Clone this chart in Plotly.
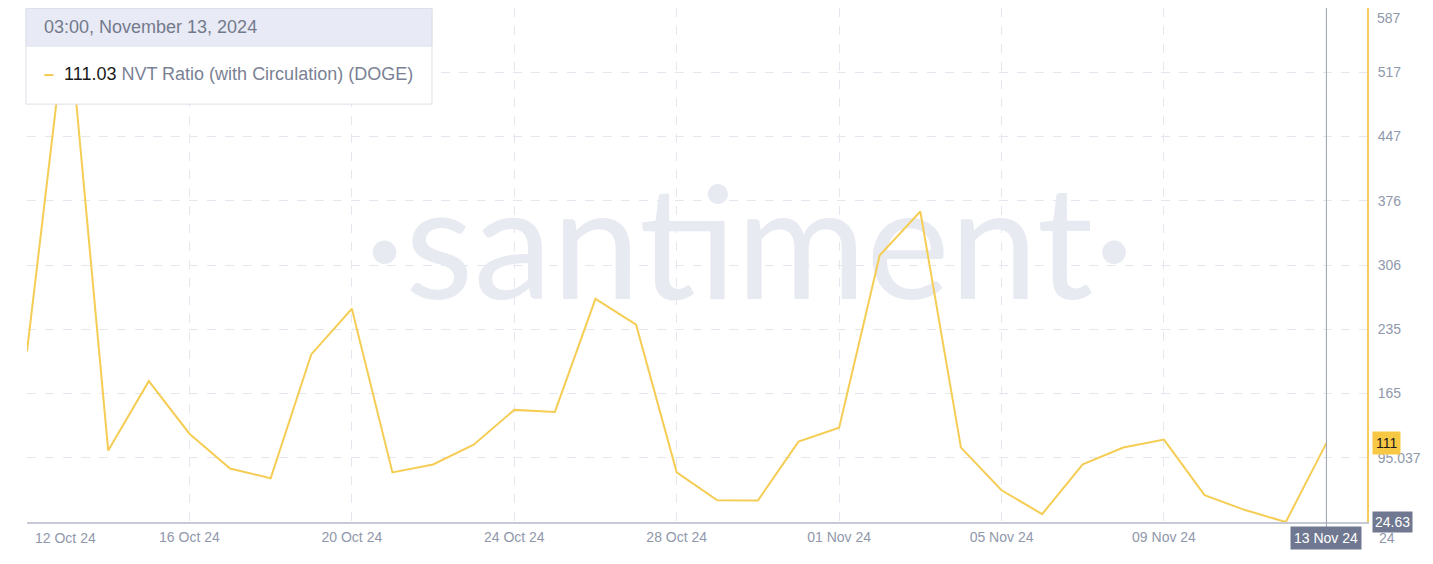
import pandas as pd
import plotly.graph_objects as go

# data (daily NVT ratio, DOGE)
dates = [
    "2024-10-12", "2024-10-13", "2024-10-14", "2024-10-15", "2024-10-16", "2024-10-17",
    "2024-10-18", "2024-10-19", "2024-10-20", "2024-10-21", "2024-10-22", "2024-10-23",
    "2024-10-24", "2024-10-25", "2024-10-26", "2024-10-27", "2024-10-28", "2024-10-29",
    "2024-10-30", "2024-10-31", "2024-11-01", "2024-11-02", "2024-11-03", "2024-11-04",
    "2024-11-05", "2024-11-06", "2024-11-07", "2024-11-08", "2024-11-09", "2024-11-10",
    "2024-11-11", "2024-11-12", "2024-11-13",
]
nvt = [
    211.6, 587.8, 102.9, 179.0, 121.4, 83.3,
    72.5, 208.3, 258.3, 79.0, 87.7, 109.4,
    147.5, 145.3, 269.2, 240.9, 79.0, 48.5,
    48.2, 112.7, 127.9, 317.0, 364.9, 106.2,
    59.4, 33.3, 87.7, 106.2, 114.9, 54.0,
    37.7, 24.63, 111.03,
]

x_ticks = ["2024-10-16", "2024-10-20", "2024-10-24", "2024-10-28",
           "2024-11-01", "2024-11-05", "2024-11-09", "2024-11-13"]
x_tick_text = ["16 Oct 24", "20 Oct 24", "24 Oct 24", "28 Oct 24",
               "01 Nov 24", "05 Nov 24", "09 Nov 24", "13 Nov 24"]
y_ticks = [24.63, 95.037, 165.44, 235.85, 306.25, 376.66, 447.06, 517.47, 587.87]
y_tick_text = ["", "95.037", "165", "235", "306", "376", "447", "517", ""]

x_start, x_end = pd.Timestamp("2024-10-12"), pd.Timestamp("2024-11-14")
y_min, y_max = 24.63, 587.9

LINE = "#f5cd55"
GRID = "#e4e7ee"
TICK = "#9098ab"
SLATE = "#6f7890"

fig = go.Figure()

# watermark behind the line
fig.add_trace(go.Scatter(
    x=[x_start + (x_end - x_start) * 0.539], y=[y_min + (y_max - y_min) * 0.51],
    mode="text", text=["·santiment·"],
    textfont=dict(family="Lato, sans-serif", size=158, color="#e8eaf2"),
    hoverinfo="skip", showlegend=False, cliponaxis=False,
))

fig.add_trace(go.Scatter(
    x=dates, y=nvt, mode="lines",
    line=dict(color=LINE, width=2),
    name="NVT Ratio (with Circulation) (DOGE)", showlegend=False,
))

fig.update_layout(
    width=1425, height=556,
    margin=dict(l=19, r=66, t=0, b=42),
    plot_bgcolor="white", paper_bgcolor="white",
    font=dict(family="Liberation Sans, Arial, sans-serif", size=14, color=TICK),
    xaxis=dict(
        range=[x_start, x_end], tickvals=x_ticks, ticktext=x_tick_text,
        showgrid=True, gridcolor=GRID, griddash="dash", gridwidth=1,
        showline=True, linecolor="#c6cad4", linewidth=2,
        ticks="", ticklabelstandoff=1, zeroline=False,
    ),
    yaxis=dict(
        range=[y_min, y_max], tickvals=y_ticks, ticktext=y_tick_text, side="right",
        showgrid=True, gridcolor=GRID, griddash="dash", gridwidth=1,
        showline=True, linecolor=LINE, linewidth=2,
        ticks="", ticklabelstandoff=6, zeroline=False,
    ),
)

# crosshair
fig.add_shape(type="line", xref="x", yref="paper", x0=dates[-1], x1=dates[-1],
              y0=-0.012, y1=1, line=dict(color="#9aa0ae", width=1))

# tooltip box
fig.add_shape(type="rect", xref="paper", yref="paper", x0=-0.0007, x1=0.3022,
              y0=0.813, y1=0.999, fillcolor="white", line=dict(color="#dde0e8", width=1))
fig.add_shape(type="rect", xref="paper", yref="paper", x0=-0.0007, x1=0.3022,
              y0=0.926, y1=0.999, fillcolor="#e8eaf5", line=dict(color="#dde0e8", width=1))
fig.add_annotation(xref="paper", yref="paper", x=0.0112, y=0.964, xanchor="left",
                   yanchor="middle", showarrow=False,
                   text="03:00, November 13, 2024",
                   font=dict(size=18, color="#737a8c"))
fig.add_annotation(xref="paper", yref="paper", x=0.0112, y=0.8716, xanchor="left",
                   yanchor="middle", showarrow=False,
                   text=(f"<span style='color:#f5c542'><b>–</b></span>  "
                         "<span style='color:#1a1a1a'>111.03</span> "
                         "NVT Ratio (with Circulation) (DOGE)"),
                   font=dict(size=18, color="#7a8194"))

# first x label sits inside the plot edge
fig.add_annotation(xref="paper", yref="paper", x=0.0285, y=-0.031, xanchor="center",
                   yanchor="middle", showarrow=False, text="12 Oct 24",
                   font=dict(size=14, color=TICK))
# top y label, kept inside the frame
fig.add_annotation(xref="paper", yref="y", x=1.006, y=y_ticks[-1], xanchor="left",
                   yanchor="top", showarrow=False, text="587",
                   font=dict(size=14, color=TICK))

# axis badges
fig.add_annotation(xref="paper", yref="y", x=1.0037, y=nvt[-1], xanchor="left",
                   yanchor="middle", showarrow=False, text="111", bgcolor="#f7c843",
                   borderpad=3, font=dict(size=14, color="#1a1a1a"))
fig.add_annotation(xref="paper", yref="y", x=1.0037, y=min(nvt), xanchor="left",
                   yanchor="middle", showarrow=False, text="24.63", bgcolor=SLATE,
                   borderpad=2, font=dict(size=14, color="white"))
fig.add_annotation(xref="paper", yref="paper", x=1.0075, y=-0.031, xanchor="left",
                   yanchor="middle", showarrow=False, text="24",
                   font=dict(size=14, color=TICK))
fig.add_annotation(xref="x", yref="paper", x=dates[-1], y=-0.031, xanchor="center",
                   yanchor="middle", showarrow=False, text="13 Nov 24", bgcolor=SLATE,
                   borderpad=3, font=dict(size=14, color="white"))

fig.write_html("out.html")
